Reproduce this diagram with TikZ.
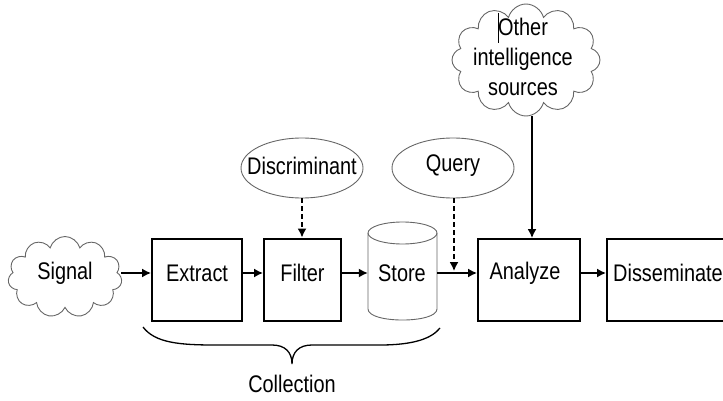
\documentclass[tikz,border=0pt]{standalone}
\usepackage{fontspec}
\setmainfont{Liberation Sans}[FakeStretch=0.83]
\usetikzlibrary{shapes.symbols,shapes.geometric,arrows.meta}
\begin{document}
\begin{tikzpicture}[x=1pt,y=-1pt,
  txt/.style={font=\fontsize{24}{30}\selectfont, inner sep=0pt, align=center},
  box/.style={draw=black, line width=2pt, minimum width=#1, minimum height=82pt, inner sep=0pt},
  puff/.style={cloud, cloud puffs=#1, cloud ignores aspect, draw=black!60, line width=0.9pt, inner sep=0pt},
  oval/.style={ellipse, draw=black!60, line width=0.9pt, minimum width=122pt, minimum height=60pt, inner sep=0pt},
  conn/.style={line width=1.5pt, -{Latex[length=9pt,width=9pt]}},
  dconn/.style={conn, dash pattern=on 5pt off 3pt}
]
\useasboundingbox (0,0) rectangle (723,401);
% signal cloud
\node[puff=11, minimum width=114pt, minimum height=81pt] (signal) at (65,277) {};
\node[txt] (signalT) at (65,273) {Signal};
% boxes
\node[box=90pt] (extract) at (197,279.5) {};
\node[txt] (extractT) at (197,273) {Extract};
\node[box=77pt] (filter) at (302.5,279.5) {};
\node[txt] (filterT) at (302.5,273) {Filter};
\node[box=102pt] (analyze) at (529,280) {};
\node[txt] (analyzeT) at (525,273) {Analyze};
\node[box=124pt] (dissem) at (669,280) {};
\node[txt, anchor=west] (dissemT) at (613,273) {Disseminate};
% store cylinder
\node[minimum width=69pt, minimum height=98pt, inner sep=0pt] (store) at (402.5,271) {};
\draw[black!60, line width=0.9pt, fill=white] (368,233) -- (368,309) .. controls (368,323.7) and (437,323.7) .. (437,309) -- (437,233);
\draw[black!60, line width=0.9pt] (402.5,233) ellipse [x radius=34.5, y radius=11];
\node[txt] (storeT) at (402,273) {Store};
% ellipses
\node[oval] (discr) at (302,168) {};
\node[txt] (discrT) at (302,166) {Discriminant};
\node[oval] (query) at (453,168) {};
\node[txt] (queryT) at (453,166) {Query};
% other cloud
\node[puff=12, minimum width=148pt, minimum height=112pt] (other) at (526,60) {};
\node[txt] (otherT) at (523,57) {Other\\intelligence\\sources};
\draw[line width=1pt] (498,13) -- (498,43);
% connectors
\draw[conn] (signal.east |- signalT) -- (extract.west |- extractT);
\draw[conn] (extract.east |- extractT) -- (filter.west |- filterT);
\draw[conn] (filter.east |- filterT) -- (store.west |- storeT);
\draw[conn] (store.east |- storeT) -- (analyze.west |- analyzeT);
\draw[conn] (analyze.east |- analyzeT) -- (dissem.west |- dissemT);
\draw[dconn] (discr.south) -- (discr.south |- filter.north);
\coordinate (qend) at (454,271);
\draw[dconn] (query.south -| qend) -- (qend);
\coordinate (oend) at (532,116);
\draw[conn] (oend) -- (oend |- analyze.north);
% brace
\draw[line width=1.3pt] (143,327) .. controls (155,343) and (180,345) .. (215,345) -- (272,345) .. controls (285,345) and (292,352) .. (292,364) .. controls (292,352) and (299,345) .. (312,345) -- (380,345) .. controls (415,345) and (432,338) .. (440,328);
\node[txt] (coll) at (292,384) {Collection};
\end{tikzpicture}
\end{document}
